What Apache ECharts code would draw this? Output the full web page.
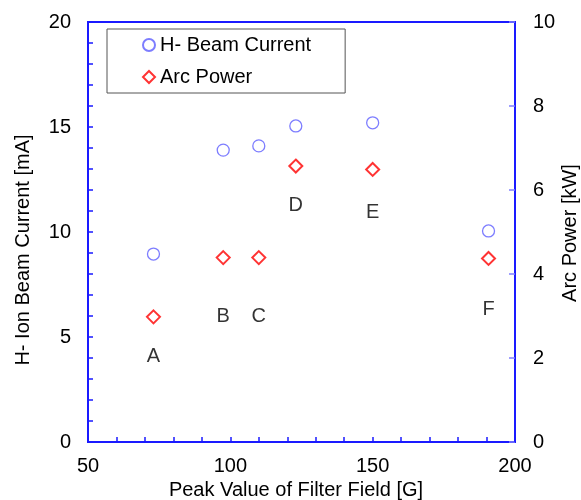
<html>
<head>
    <meta charset="utf-8">
    <script src="https://cdn.jsdelivr.net/npm/echarts@6/dist/echarts.min.js"></script>
    <style>
        body { margin: 0; background: #fff; }
        #main { width: 581px; height: 500px; }
    </style>
</head>
<body>
    <div id="main"></div>
    <script>
        // filter field peak [G]
        var field = [73, 97.5, 110, 123, 150, 190.7];
        // H- beam current [mA]
        var beamCurrent = [8.95, 13.9, 14.1, 15.05, 15.2, 10.05];
        // arc power [kW]
        var arcPower = [2.98, 4.39, 4.39, 6.57, 6.49, 4.37];
        // case names and where they sit (left axis units)
        var caseNames = ['A', 'B', 'C', 'D', 'E', 'F'];
        var caseLabelY = [4.06, 6.0, 6.0, 11.24, 10.95, 6.29];

        var FONT = 'Liberation Sans, Arial, sans-serif';
        var BLUE = '#1a1aff';

        var chart = echarts.init(document.getElementById('main'));

        var currentData = field.map(function (x, i) { return [x, beamCurrent[i]]; });
        var powerData = field.map(function (x, i) { return [x, arcPower[i]]; });
        var caseData = field.map(function (x, i) { return [x, caseLabelY[i], caseNames[i]]; });

        var option = {
            animation: false,
            backgroundColor: '#fff',
            grid: {
                left: 88, right: 66, top: 22, bottom: 58,
                show: true,
                borderColor: BLUE,
                borderWidth: 2
            },
            legend: {
                orient: 'vertical',
                left: 107,
                top: 29,
                data: ['H- Beam Current', 'Arc Power'],
                itemWidth: 12,
                itemHeight: 12,
                itemGap: 12,
                padding: [6, 34, 6, 35],
                borderColor: '#555',
                borderWidth: 1,
                textStyle: { fontFamily: FONT, fontSize: 20, color: '#000' }
            },
            xAxis: {
                type: 'value',
                min: 50, max: 200, interval: 50,
                axisLine: { lineStyle: { color: BLUE, width: 2 } },
                axisTick: { inside: true, length: 5, lineStyle: { color: BLUE, width: 1.5 } },
                minorTick: { show: true, splitNumber: 5, length: 5, lineStyle: { color: BLUE, width: 1.5 } },
                splitLine: { show: false },
                axisLabel: { fontFamily: FONT, fontSize: 20, color: '#000', margin: 14 }
            },
            yAxis: [{
                type: 'value',
                min: 0, max: 20, interval: 5,
                axisLine: { show: true, lineStyle: { color: BLUE, width: 2 } },
                axisTick: { show: true, inside: true, length: 5, lineStyle: { color: BLUE, width: 1.5 } },
                minorTick: { show: true, splitNumber: 5, length: 5, lineStyle: { color: BLUE, width: 1.5 } },
                splitLine: { show: false },
                axisLabel: { fontFamily: FONT, fontSize: 20, color: '#000', margin: 17 }
            }, {
                type: 'value',
                position: 'right',
                min: 0, max: 10, interval: 2,
                axisLine: { show: true, lineStyle: { color: BLUE, width: 2 } },
                axisTick: { show: true, inside: true, length: 6, lineStyle: { color: '#8080ff', width: 1.5 } },
                splitLine: { show: false },
                axisLabel: { fontFamily: FONT, fontSize: 20, color: '#000', margin: 18 }
            }],
            graphic: [{
                type: 'text',
                x: 23, y: 250,
                rotation: Math.PI / 2,
                style: {
                    text: 'H- Ion Beam Current [mA]',
                    font: '20px ' + FONT,
                    fill: '#000',
                    align: 'center',
                    verticalAlign: 'middle'
                }
            }, {
                type: 'text',
                x: 570, y: 233,
                rotation: Math.PI / 2,
                style: {
                    text: 'Arc Power [kW]',
                    font: '20px ' + FONT,
                    fill: '#000',
                    align: 'center',
                    verticalAlign: 'middle'
                }
            }, {
                type: 'text',
                x: 296, y: 490,
                style: {
                    text: 'Peak Value of Filter Field [G]',
                    font: '20px ' + FONT,
                    fill: '#000',
                    align: 'center',
                    verticalAlign: 'middle'
                }
            }],
            series: [{
                name: 'H- Beam Current',
                type: 'scatter',
                yAxisIndex: 0,
                symbol: 'circle',
                symbolSize: 12,
                itemStyle: { color: 'rgba(255,255,255,0)', borderColor: '#5c5cff', borderWidth: 1.3 },
                data: currentData
            }, {
                name: 'Arc Power',
                type: 'scatter',
                yAxisIndex: 1,
                symbol: 'diamond',
                symbolSize: [13, 13],
                itemStyle: { color: 'rgba(255,255,255,0)', borderColor: '#ff0000', borderWidth: 2 },
                data: powerData
            }, {
                name: 'cases',
                type: 'scatter',
                yAxisIndex: 0,
                symbolSize: 0,
                silent: true,
                label: {
                    show: true,
                    position: 'inside',
                    formatter: function (p) { return p.data[2]; },
                    fontFamily: FONT,
                    fontSize: 20,
                    color: '#000'
                },
                data: caseData
            }]
        };

        chart.setOption(option);
    </script>
</body>
</html>
